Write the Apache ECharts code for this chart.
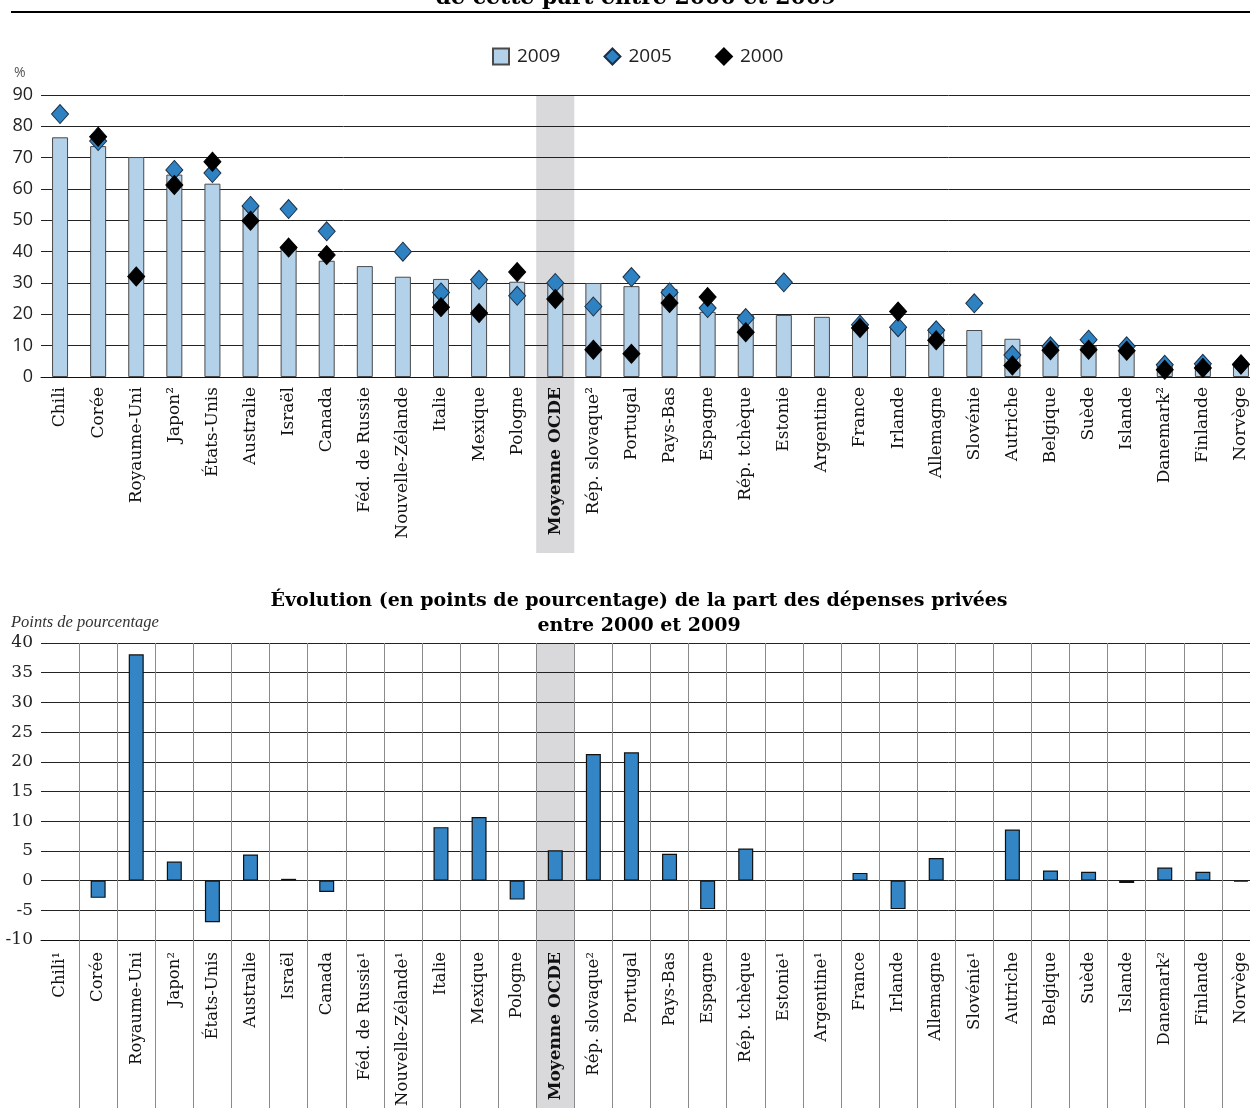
<!DOCTYPE html>
<html>
<head>
<meta charset="utf-8">
<script src="https://cdn.jsdelivr.net/npm/echarts@6/dist/echarts.min.js"></script>
<style>
  html, body { margin: 0; padding: 0; background: #fff; }
  #chart { width: 1250px; height: 1108px; }
</style>
</head>
<body>
<div id="chart"></div>
<script>
// ---------- DATA ----------
const categoriesTop = ['Chili','Corée','Royaume-Uni','Japon²','États-Unis','Australie','Israël','Canada','Féd. de Russie','Nouvelle-Zélande','Italie','Mexique','Pologne','Moyenne OCDE','Rép. slovaque²','Portugal','Pays-Bas','Espagne','Rép. tchèque','Estonie','Argentine','France','Irlande','Allemagne','Slovénie','Autriche','Belgique','Suède','Islande','Danemark²','Finlande','Norvège'];
const categoriesBottom = ['Chili¹','Corée','Royaume-Uni','Japon²','États-Unis','Australie','Israël','Canada','Féd. de Russie¹','Nouvelle-Zélande¹','Italie','Mexique','Pologne','Moyenne OCDE','Rép. slovaque²','Portugal','Pays-Bas','Espagne','Rép. tchèque','Estonie¹','Argentine¹','France','Irlande','Allemagne','Slovénie¹','Autriche','Belgique','Suède','Islande','Danemark²','Finlande','Norvège'];
const highlight = 'Moyenne OCDE';

const share2009 = [76.5, 73.7, 70.2, 64.6, 61.7, 54.4, 41.6, 37.1, 35.4, 32.0, 31.3, 31.0, 30.4, 30.1, 30.0, 29.0, 28.1, 20.8, 20.0, 19.8, 19.2, 16.6, 16.0, 15.6, 15.0, 12.2, 10.1, 10.0, 8.1, 4.4, 3.9, 3.8];
const share2005 = [83.9, 75.3, null, 66.1, 65.1, 54.6, 53.6, 46.5, null, 40.0, 27.0, 31.0, 25.9, 30.0, 22.5, 31.9, 27.0, 22.0, 18.8, 30.2, null, 16.7, 15.9, 14.9, 23.5, 7.0, 9.8, 11.9, 9.8, 3.9, 4.2, 4.0];
const share2000 = [null, 76.7, 32.1, 61.3, 68.7, 49.9, 41.3, 38.9, null, null, 22.3, 20.4, 33.5, 24.9, 8.7, 7.4, 23.6, 25.5, 14.3, null, null, 15.6, 20.9, 11.7, null, 3.7, 8.5, 8.7, 8.4, 2.3, 2.9, 4.0];
const change = [null, -2.9, 38.1, 3.2, -7.0, 4.4, 0.3, -1.9, null, null, 9.0, 10.7, -3.2, 5.1, 21.3, 21.6, 4.5, -4.8, 5.4, null, null, 1.3, -4.8, 3.8, null, 8.6, 1.7, 1.5, -0.4, 2.2, 1.5, -0.2];

const topAxis = { min: 0, max: 90, interval: 10 };
const bottomAxis = { min: -10, max: 40, interval: 5 };

// ---------- STYLE ----------
const serif = 'DejaVu Serif';
const sans = 'Open Sans';
const plotLeft = 41;
const plotWidth = 1219; // plot continues past the right edge (cropped)

const bandTop = categoriesTop.map(c => c === highlight ? 1 : null);
const bandBottom = categoriesBottom.map(c => c === highlight ? 1 : null);

function catLabel(v) {
  return v === highlight ? '{b|' + v + '}' : v;
}
const labelRich = { b: { fontFamily: serif, fontWeight: 'bold', fontSize: 17, color: '#111' } };

const chart = echarts.init(document.getElementById('chart'), null, { renderer: 'canvas' });

const gridBase = { left: plotLeft, width: plotWidth, containLabel: false, outerBoundsMode: 'none' };

const option = {
  animation: false,
  backgroundColor: '#fff',
  title: [
    { text: 'de cette part entre 2000 et 2009', left: 636, textAlign: 'center', top: -13, padding: 0,
      textStyle: { fontFamily: serif, fontWeight: 'bold', fontSize: 22, color: '#000' } },
    { text: 'Évolution (en points de pourcentage) de la part des dépenses privées\nentre 2000 et 2009',
      left: 634, textAlign: 'center', top: 584,
      textStyle: { fontFamily: serif, fontWeight: 'bold', fontSize: 19, lineHeight: 25, color: '#000' } },
    { text: '%', left: 14, top: 66, padding: 0, textStyle: { fontFamily: sans, fontWeight: 'normal', fontSize: 14, color: '#555' } },
    { text: 'Points de pourcentage', left: 11, top: 614, padding: 0,
      textStyle: { fontFamily: 'Liberation Serif', fontStyle: 'italic', fontWeight: 'normal', fontSize: 16.5, color: '#333' } }
  ],
  graphic: [
    { type: 'rect', shape: { x: 0, y: 11, width: 1250, height: 30 }, style: { fill: '#fff' }, z: 50 },
    { type: 'line', shape: { x1: 11, y1: 12, x2: 1250, y2: 12 }, style: { stroke: '#000', lineWidth: 2 }, z: 51 }
  ],
  legend: {
    top: 47, left: 492, padding: 0, itemGap: 43, itemWidth: 16, itemHeight: 16,
    textStyle: { fontFamily: sans, fontSize: 19, color: '#222', padding: [0, 0, 0, 3] },
    data: [
      { name: '2009', icon: 'rect' },
      { name: '2005', icon: 'diamond' },
      { name: '2000', icon: 'diamond' }
    ]
  },
  grid: [
    Object.assign({}, gridBase, { top: 95, bottom: 731 }),
    Object.assign({}, gridBase, { top: 643, bottom: 168 }),
    Object.assign({}, gridBase, { top: 95, bottom: 555 }),
    Object.assign({}, gridBase, { top: 643, bottom: 0 })
  ],
  xAxis: [
    { gridIndex: 0, type: 'category', data: categoriesTop, boundaryGap: true,
      axisLine: { show: true, lineStyle: { color: '#111', width: 1 } },
      axisTick: { show: false },
      axisLabel: { interval: 0, rotate: 90, margin: 10, fontFamily: serif, fontSize: 17, color: '#111',
        formatter: catLabel, rich: labelRich },
      splitLine: { show: false } },
    { gridIndex: 1, type: 'category', data: categoriesBottom, boundaryGap: true,
      axisLine: { show: true, onZero: false, lineStyle: { color: '#111', width: 1 } },
      axisTick: { show: true, length: 170, interval: function (i) { return i > 0; }, lineStyle: { color: '#8a8a8a', width: 1 } },
      axisLabel: { interval: 0, rotate: 90, margin: 12, fontFamily: serif, fontSize: 16.5, color: '#111',
        formatter: catLabel, rich: labelRich },
      splitLine: { show: true, interval: function (i) { return i > 0; }, lineStyle: { color: '#8a8a8a', width: 1 } } },
    { gridIndex: 2, type: 'category', data: categoriesTop, show: false },
    { gridIndex: 3, type: 'category', data: categoriesBottom, show: false }
  ],
  yAxis: [
    { gridIndex: 0, type: 'value', min: topAxis.min, max: topAxis.max, interval: topAxis.interval,
      axisLine: { show: false }, axisTick: { show: false },
      axisLabel: { fontFamily: sans, fontSize: 18, color: '#222', margin: 8 },
      splitLine: { show: true, lineStyle: { color: '#222', width: 1 } } },
    { gridIndex: 1, type: 'value', min: bottomAxis.min, max: bottomAxis.max, interval: bottomAxis.interval,
      axisLine: { show: false }, axisTick: { show: false },
      axisLabel: { fontFamily: serif, fontSize: 17, color: '#222', margin: 8 },
      splitLine: { show: true, lineStyle: { color: '#222', width: 1 } } },
    { gridIndex: 2, type: 'value', min: 0, max: 1, show: false, splitLine: { show: false } },
    { gridIndex: 3, type: 'value', min: 0, max: 1, show: false, splitLine: { show: false } }
  ],
  series: [
    { name: 'bandTop', type: 'bar', xAxisIndex: 2, yAxisIndex: 2, data: bandTop, barWidth: '100%',
      itemStyle: { color: '#d9d9db' }, z: -1, silent: true },
    { name: 'bandBottom', type: 'bar', xAxisIndex: 3, yAxisIndex: 3, data: bandBottom, barWidth: '100%',
      itemStyle: { color: '#d9d9db' }, z: -1, silent: true },
    { name: '2009', type: 'bar', xAxisIndex: 0, yAxisIndex: 0, data: share2009, barWidth: 16,
      itemStyle: { color: '#b4d1ea', borderColor: '#4a4a4a', borderWidth: 1 }, z: 2 },
    { name: '2005', type: 'scatter', xAxisIndex: 0, yAxisIndex: 0, data: share2005, symbol: 'diamond',
      symbolSize: [17, 19], itemStyle: { color: '#2f82c2', borderColor: '#1c2f45', borderWidth: 1, opacity: 1 }, z: 3 },
    { name: '2000', type: 'scatter', xAxisIndex: 0, yAxisIndex: 0, data: share2000, symbol: 'diamond',
      symbolSize: [17, 19], itemStyle: { color: '#000', borderColor: '#000', borderWidth: 1, opacity: 1 }, z: 4 },
    { name: 'change', type: 'bar', xAxisIndex: 1, yAxisIndex: 1, data: change, barWidth: 15,
      itemStyle: { color: '#3385c5', borderColor: '#111', borderWidth: 1.2 }, z: 2 }
  ]
};
chart.setOption(option);
</script>
</body>
</html>
